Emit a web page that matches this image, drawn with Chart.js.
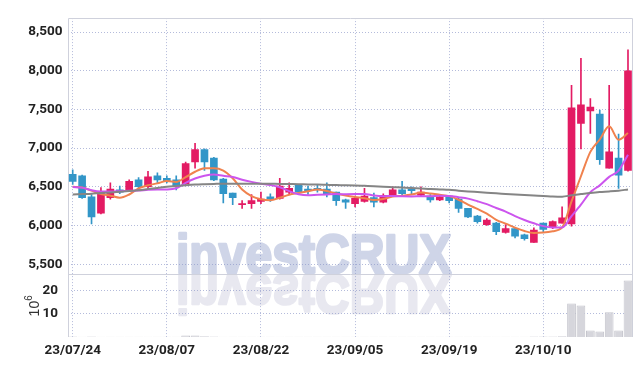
<!DOCTYPE html>
<html><head><meta charset="utf-8">
<script src="https://cdn.jsdelivr.net/npm/chart.js@4"></script>
<style>html,body{margin:0;padding:0;background:#fff}#wrap{width:642px;height:366px;position:relative}canvas{display:block}</style>
</head><body><div id="wrap"><canvas id="c" width="642" height="366"></canvas></div>
<script>
const dates = ['23/07/24','23/07/25','23/07/26','23/07/27','23/07/28','23/07/31','23/08/01','23/08/02','23/08/03','23/08/04',
'23/08/07','23/08/08','23/08/09','23/08/10','23/08/11','23/08/14','23/08/16','23/08/17','23/08/18','23/08/21',
'23/08/22','23/08/23','23/08/24','23/08/25','23/08/28','23/08/29','23/08/30','23/08/31','23/09/01','23/09/04',
'23/09/05','23/09/06','23/09/07','23/09/08','23/09/11','23/09/12','23/09/13','23/09/14','23/09/15','23/09/18',
'23/09/19','23/09/20','23/09/21','23/09/22','23/09/25','23/09/26','23/09/27','23/10/04','23/10/05','23/10/06',
'23/10/10','23/10/11','23/10/12','23/10/13','23/10/16','23/10/17','23/10/18','23/10/19','23/10/20','23/10/23'];
const openP = [6660,6640,6370,6160,6360,6460,6460,6590,6500,6640,6610,6590,6540,6820,6980,6870,6600,6420,6270,6280,
6310,6370,6350,6430,6520,6470,6480,6470,6430,6330,6280,6310,6360,6300,6390,6460,6470,6390,6380,6330,
6380,6340,6220,6120,6010,6030,5910,5960,5880,5780,6030,5970,6030,6020,7320,7480,7440,6740,6870,6710];
const highP = [6720,6650,6400,6490,6550,6510,6590,6620,6700,6680,6640,6640,6820,7060,6990,6880,6610,6420,6320,6400,
6430,6410,6610,6550,6530,6510,6520,6550,6430,6340,6380,6480,6420,6410,6500,6570,6500,6500,6400,6390,
6390,6350,6220,6130,6090,6040,6010,5960,5890,5970,6030,6060,6240,7810,8160,7640,7490,7810,7180,8270];
const lowP = [6530,6350,6020,6150,6340,6410,6450,6450,6470,6550,6550,6460,6520,6740,6710,6580,6290,6270,6220,6220,
6280,6310,6340,6400,6410,6400,6430,6370,6260,6220,6240,6300,6240,6290,6380,6380,6410,6380,6300,6320,
6290,6170,6100,6030,6000,5880,5900,5840,5810,5780,5920,5960,6030,5990,6990,7190,6790,6740,6480,6700];
const closeP = [6570,6360,6110,6430,6470,6430,6570,6500,6630,6590,6580,6510,6800,6980,6820,6590,6410,6360,6280,6320,
6340,6340,6510,6480,6430,6450,6460,6400,6320,6300,6350,6380,6300,6390,6460,6410,6450,6430,6330,6370,
6320,6220,6110,6050,6070,5920,5960,5860,5830,5940,5950,6050,6100,7520,7560,7530,6850,6950,6650,8000];
const ma5 = [6500,6490,6450,6405,6385,6358,6400,6478,6519,6544,6574,6562,6624,6694,6739,6740,6710,6610,6465,6380,
6339,6327,6357,6397,6419,6442,6466,6444,6413,6388,6368,6351,6330,6343,6374,6384,6399,6425,6413,6396,
6379,6332,6269,6213,6153,6073,6023,5972,5928,5903,5909,5926,5974,6312,6636,6951,7111,7281,7107,7195];
const ma10 = [6497,6489,6455,6439,6439,6443,6447,6451,6460,6465,6466,6481,6551,6607,6642,6657,6641,6627,6591,6563,
6540,6523,6493,6443,6403,6390,6396,6401,6405,6404,6405,6408,6387,6378,6381,6376,6375,6377,6378,6385,
6382,6366,6347,6313,6275,6226,6178,6121,6071,6028,5991,5974,5973,6120,6269,6430,6518,6628,6709,6915];
const ma60 = [6400,6405,6410,6420,6425,6435,6445,6455,6470,6485,6500,6510,6520,6528,6533,6537,6540,6540,6540,6540,
6540,6538,6537,6535,6533,6530,6528,6525,6522,6520,6517,6512,6507,6500,6495,6490,6485,6478,6470,6465,
6460,6450,6440,6432,6424,6415,6408,6400,6393,6387,6382,6375,6372,6390,6405,6420,6432,6440,6450,6465];
const volume = [0.2,0.15,0.2,0.15,0.1,0.1,0.1,0.1,0.15,0.1,0.1,0.1,0.6,0.7,0.3,0.2,0.15,0.1,0.1,0.1,
0.1,0.1,0.15,0.1,0.1,0.1,0.1,0.1,0.1,0.1,0.1,0.1,0.1,0.1,0.1,0.1,0.1,0.1,0.1,0.1,
0.1,0.1,0.1,0.1,0.1,0.15,0.1,0.1,0.1,0.2,0.2,0.2,0.3,14.5,13.6,2.8,2.4,10.7,2.8,24.4];
const priceTicks = [5500,6000,6500,7000,7500,8000,8500];
const volTicks = [10,20];
const xLabelIdx = [0,10,20,30,40,50];

const UP = '#e31b63', DOWN = '#3296c8';
const candleColor = closeP.map((c,i)=> c >= openP[i] ? UP : DOWN);
const GRID = 'rgba(140,150,200,0.65)';
const FRAME = '#cfd1dc';
const tickFont = {family:'Roboto, "Liberation Sans", sans-serif', size:13.5, weight:'bold'};

function drawMark(ctx, color, x, y, sy){
  ctx.font = 'bold 55px "Liberation Sans", Arial, sans-serif';
  ctx.textAlign = 'left'; ctx.textBaseline = 'alphabetic';
  ctx.fillStyle = color; ctx.strokeStyle = color;
  ctx.lineWidth = 2.6; ctx.lineJoin = 'round';
  ctx.translate(x, y); ctx.scale(0.875, sy);
  ctx.fillText('investCRUX', 0, 0);
  ctx.strokeText('investCRUX', 0, 0);
}

const decor = {
  id:'decor',
  beforeDraw(chart){
    const ctx = chart.ctx, a = chart.chartArea;
    const sep = chart.scales.y.bottom;
    ctx.save();
    ctx.beginPath(); ctx.rect(a.left, a.top, a.right-a.left, sep-a.top); ctx.clip();
    drawMark(ctx, '#cfd5e8', 176, sep - 1, 1);
    ctx.restore();
    ctx.save();
    ctx.beginPath(); ctx.rect(a.left, sep, a.right-a.left, a.bottom-sep); ctx.clip();
    drawMark(ctx, '#e8e8f0', 176, sep + 1, -1);
    ctx.restore();
  },
  beforeDatasetsDraw(chart){
    const ctx = chart.ctx, a = chart.chartArea;
    const sep = chart.scales.y.bottom;
    ctx.save();
    ctx.strokeStyle = FRAME; ctx.lineWidth = 1;
    const L = Math.floor(a.left)+0.5, R = Math.floor(a.right)+0.5, T = Math.floor(a.top)+0.5, S = Math.floor(sep)+0.5;
    ctx.beginPath();
    ctx.moveTo(L, a.bottom); ctx.lineTo(L, T); ctx.lineTo(R, T); ctx.lineTo(R, a.bottom);
    ctx.moveTo(L, S); ctx.lineTo(R, S);
    ctx.stroke();
    ctx.restore();
  },
  afterDraw(chart){
    const ctx = chart.ctx, yv = chart.scales.yv;
    const cy = (yv.top + yv.bottom)/2;
    ctx.save();
    ctx.translate(34, cy);
    ctx.rotate(-Math.PI/2);
    ctx.fillStyle = '#333';
    ctx.textBaseline = 'middle';
    ctx.font = '14px "Liberation Sans", sans-serif';
    const w = ctx.measureText('10').width;
    ctx.textAlign = 'left';
    ctx.fillText('10', -w/2 - 3, 1);
    ctx.font = '10px "Liberation Sans", sans-serif';
    ctx.fillText('6', w/2 - 3, -5);
    ctx.restore();
  }
};

const lineDs = (data, color) => ({
  type:'line', data, yAxisID:'y', borderColor:color, borderWidth:2, pointRadius:0,
  cubicInterpolationMode:'monotone', fill:false, order:0
});

new Chart(document.getElementById('c'), {
  data: {
    labels: dates,
    datasets: [
      lineDs(ma60, '#858585'),
      lineDs(ma10, '#cc55ee'),
      lineDs(ma5, '#f0824e'),
      { type:'bar', data: openP.map((o,i)=>[o, closeP[i]]), yAxisID:'y', backgroundColor:candleColor,
        barThickness:7, grouped:false, minBarLength:1, order:1 },
      { type:'bar', data: lowP.map((l,i)=>[l, highP[i]]), yAxisID:'y', backgroundColor:candleColor,
        barThickness:1, grouped:false, order:2 },
      { type:'bar', data: volume, yAxisID:'yv', backgroundColor:'#d6d6dc', borderColor:'#c4c4cc', borderWidth:1,
        barPercentage:0.93, categoryPercentage:1, grouped:false, order:3 }
    ]
  },
  options: {
    responsive:false, animation:false, devicePixelRatio:1,
    layout:{padding:{top:9.5, right:9.3, left:0, bottom:0}},
    plugins:{legend:{display:false}, tooltip:{enabled:false}},
    scales:{
      x:{
        type:'category', offset:true,
        grid:{offset:false, drawTicks:false, color:(c)=> xLabelIdx.includes(c.index) ? GRID : 'rgba(0,0,0,0)'},
        border:{display:false, dash:[1,2]},
        ticks:{autoSkip:false, maxRotation:0, minRotation:0, padding:6, color:'#222',
          font:{family:'Roboto, "Liberation Sans", sans-serif', size:13.5, weight:'bold'},
          callback:(v,i)=> xLabelIdx.includes(i) ? dates[i] : ''},
        afterFit:(s)=>{ s.height = 29; }
      },
      yv:{
        position:'left', stack:'panel', stackWeight:64.5, min:0, max:27.1,
        afterBuildTicks:(s)=>{ s.ticks = volTicks.map(v=>({value:v})); },
        grid:{drawTicks:false, color:GRID},
        border:{display:false, dash:[1,2]},
        ticks:{padding:10, color:'#222', font:tickFont},
        afterFit:(s)=>{ s.width = 68; }
      },
      y:{
        position:'left', stack:'panel', stackWeight:263, min:5370, max:8680,
        afterBuildTicks:(s)=>{ s.ticks = priceTicks.map(v=>({value:v})); },
        grid:{drawTicks:false, color:GRID},
        border:{display:false, dash:[1,2]},
        ticks:{padding:5.5, color:'#222', font:tickFont, callback:(v)=> v.toLocaleString('en-US')},
        afterFit:(s)=>{ s.width = 68; }
      }
    }
  },
  plugins:[decor]
});
</script></body></html>
